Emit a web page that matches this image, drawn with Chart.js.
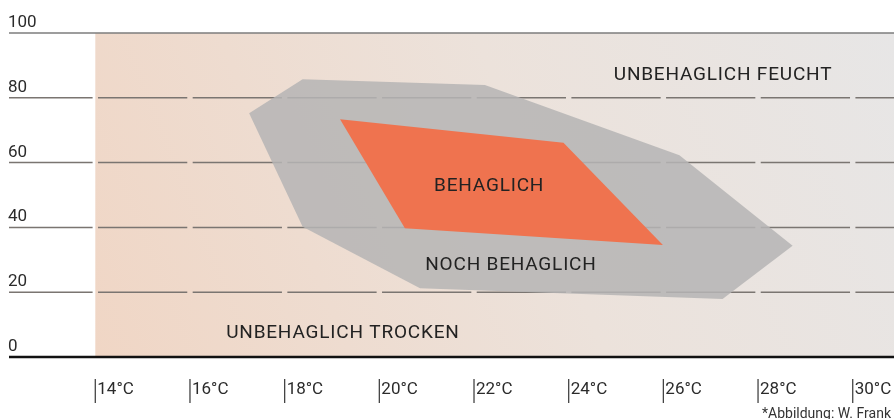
<!DOCTYPE html>
<html>
<head>
<meta charset="utf-8">
<script src="https://cdn.jsdelivr.net/npm/chart.js@4.4.1/dist/chart.umd.min.js"></script>
<style>
html,body{margin:0;padding:0;background:#fff;}
canvas{display:block;}
</style>
</head>
<body>
<canvas id="c" width="894" height="419"></canvas>
<script>
// Data
const xTicks = [14, 16, 18, 20, 22, 24, 26, 28, 30];
const xTickLabels = ['14°C', '16°C', '18°C', '20°C', '22°C', '24°C', '26°C', '28°C', '30°C'];
const yTicks = [0, 20, 40, 60, 80, 100];
const yTickLabels = ['0', '20', '40', '60', '80', '100'];

// "Noch behaglich" zone (temperature °C, relative humidity %)
const nochTemp = [17.25, 18.38, 22.23, 26.34, 28.73, 27.25, 20.86, 18.38, 17.25];
const nochHum  = [75.2, 85.7, 83.95, 62.3, 34.3, 17.9, 21.2, 40.2, 75.2];
// "Behaglich" zone
const behTemp = [19.17, 23.89, 25.99, 20.54, 19.17];
const behHum  = [73.4, 66.1, 34.6, 39.7, 73.4];

// Zone labels
const zoneLabels = ['UNBEHAGLICH FEUCHT', 'BEHAGLICH', 'NOCH BEHAGLICH', 'UNBEHAGLICH TROCKEN'];
const zoneTemp = [27.26, 22.32, 22.78, 19.23];
const zoneHum = [87.0, 52.6, 28.2, 7.3];

const footnote = '*Abbildung: W. Frank';

const toPts = (xs, ys) => xs.map((x, i) => ({x: x, y: ys[i]}));

const FONT = 'Roboto, "Noto Sans", sans-serif';

const bgPlugin = {
  id: 'bg',
  beforeDraw(chart) {
    const {ctx, chartArea, scales} = chart;
    const x0 = scales.x.getPixelForValue(14);
    const g = ctx.createLinearGradient(x0, chartArea.bottom, chartArea.right, chartArea.top);
    g.addColorStop(0, '#f0d6c5');
    g.addColorStop(0.55, '#ece2db');
    g.addColorStop(1, '#e7e6e6');
    ctx.save();
    ctx.fillStyle = g;
    ctx.fillRect(x0, chartArea.top, chartArea.right - x0, chartArea.bottom - chartArea.top);
    ctx.restore();
  },
  beforeDatasetsDraw(chart) {
    const {ctx, chartArea, scales} = chart;
    const xs = scales.x, ys = scales.y;
    ctx.save();
    // segmented grid lines
    ctx.strokeStyle = '#7a7571';
    ctx.lineWidth = 1.5;
    const gap = 2.7;
    yTicks.forEach(v => {
      if (v === 0 || v === 100) return;
      const y = ys.getPixelForValue(v);
      let start = chartArea.left;
      ctx.beginPath();
      xTicks.forEach(t => {
        const px = xs.getPixelForValue(t);
        ctx.moveTo(start, y);
        ctx.lineTo(px - gap, y);
        start = px + gap;
      });
      ctx.moveTo(start, y);
      ctx.lineTo(chartArea.right, y);
      ctx.stroke();
    });
    // top line (100)
    ctx.strokeStyle = '#7d7d7d';
    ctx.lineWidth = 1.5;
    const yt = ys.getPixelForValue(100);
    ctx.beginPath();
    ctx.moveTo(chartArea.left, yt);
    ctx.lineTo(chartArea.right, yt);
    ctx.stroke();
    ctx.restore();
  },
  afterDatasetsDraw(chart) {
    const {ctx, chartArea, scales} = chart;
    const xs = scales.x, ys = scales.y;
    ctx.save();
    // baseline (0)
    ctx.strokeStyle = '#111';
    ctx.lineWidth = 2.6;
    const y0 = ys.getPixelForValue(0);
    ctx.beginPath();
    ctx.moveTo(chartArea.left, y0);
    ctx.lineTo(chartArea.right, y0);
    ctx.stroke();

    // y labels
    ctx.fillStyle = '#2b2b2b';
    ctx.font = '17px ' + FONT;
    ctx.textAlign = 'left';
    ctx.textBaseline = 'alphabetic';
    yTicks.forEach((v, i) => {
      const y = ys.getPixelForValue(v);
      ctx.fillText(yTickLabels[i], 8, y - 6);
    });

    // x ticks and labels
    ctx.strokeStyle = '#444';
    ctx.lineWidth = 1.3;
    ctx.textBaseline = 'middle';
    xTicks.forEach((t, i) => {
      const px = xs.getPixelForValue(t);
      ctx.beginPath();
      ctx.moveTo(px, y0 + 22);
      ctx.lineTo(px, y0 + 46);
      ctx.stroke();
      ctx.fillText(xTickLabels[i], px + 2, y0 + 33);
    });

    // zone labels
    ctx.fillStyle = '#222';
    ctx.font = '19px ' + FONT;
    ctx.textAlign = 'center';
    ctx.textBaseline = 'middle';
    try { ctx.letterSpacing = '0.8px'; } catch (e) {}
    zoneLabels.forEach((s, i) => {
      ctx.fillText(s, xs.getPixelForValue(zoneTemp[i]), ys.getPixelForValue(zoneHum[i]));
    });
    try { ctx.letterSpacing = '0px'; } catch (e) {}

    // footnote
    ctx.fillStyle = '#333';
    ctx.font = '14px ' + FONT;
    ctx.textAlign = 'right';
    ctx.textBaseline = 'alphabetic';
    ctx.fillText(footnote, 891, 418);
    ctx.restore();
  }
};

new Chart(document.getElementById('c'), {
  type: 'scatter',
  data: {
    datasets: [
      {
        label: 'Behaglich',
        data: toPts(behTemp, behHum),
        showLine: true,
        fill: 'shape',
        backgroundColor: '#ef734f',
        borderWidth: 0,
        borderColor: 'rgba(0,0,0,0)',
        pointRadius: 0,
        tension: 0
      },
      {
        label: 'Noch behaglich',
        data: toPts(nochTemp, nochHum),
        showLine: true,
        fill: 'shape',
        backgroundColor: 'rgba(182,181,180,0.86)',
        borderWidth: 0,
        borderColor: 'rgba(0,0,0,0)',
        pointRadius: 0,
        tension: 0
      }
    ]
  },
  options: {
    responsive: false,
    animation: false,
    events: [],
    layout: {padding: {left: 9, right: 0, top: 33, bottom: 62}},
    plugins: {legend: {display: false}, tooltip: {enabled: false}},
    scales: {
      x: {type: 'linear', min: 12.177, max: 30.872, display: false},
      y: {type: 'linear', min: 0, max: 100, display: false}
    }
  },
  plugins: [bgPlugin]
});
</script>
</body>
</html>
